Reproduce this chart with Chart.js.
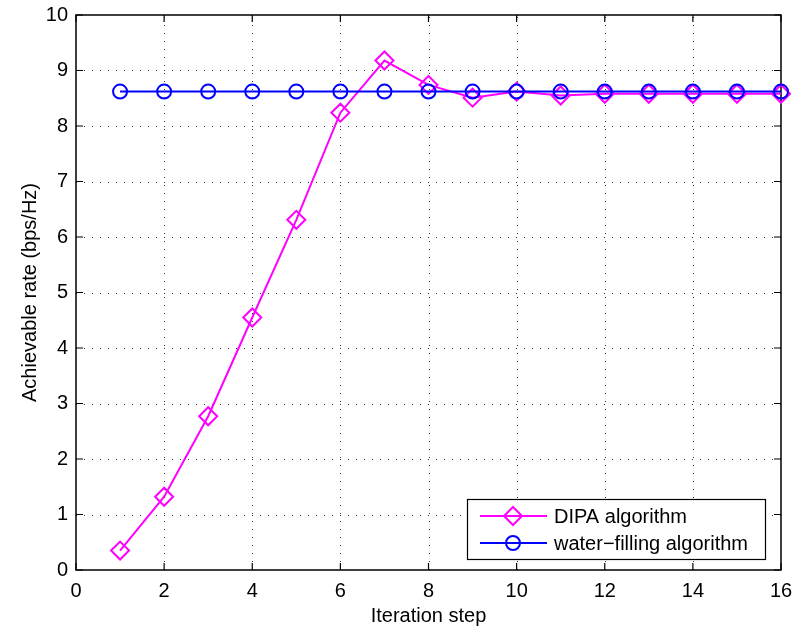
<!DOCTYPE html>
<html>
<head>
<meta charset="utf-8">
<script src="https://cdn.jsdelivr.net/npm/chart.js@4"></script>
<style>
  html, body { margin: 0; padding: 0; background: #fff; }
  #c { display: block; }
</style>
</head>
<body>
<canvas id="c" width="794" height="632"></canvas>
<script>
// Achievable rate per iteration step for the two power-allocation schemes
const iterations = [1, 2, 3, 4, 5, 6, 7, 8, 9, 10, 11, 12, 13, 14, 15, 16];
const dipaRate = [0.35, 1.32, 2.77, 4.55, 6.31, 8.24, 9.18, 8.74, 8.51, 8.62, 8.55, 8.58, 8.58, 8.58, 8.58, 8.58];
const waterFillingRate = [8.62, 8.62, 8.62, 8.62, 8.62, 8.62, 8.62, 8.62, 8.62, 8.62, 8.62, 8.62, 8.62, 8.62, 8.62, 8.62];
const xTickValues = [0, 2, 4, 6, 8, 10, 12, 14, 16];
const yTickValues = [0, 1, 2, 3, 4, 5, 6, 7, 8, 9, 10];
const seriesNames = ['DIPA algorithm', 'water\u2212filling algorithm'];

const FONT = '"Liberation Sans", Arial, Helvetica, sans-serif';

const toPoints = ys => iterations.map((x, i) => ({ x: x, y: ys[i] }));

// Dotted grid, boxed axes with inward ticks, and an in-plot legend
const matlabAxes = {
  id: 'matlabAxes',
  beforeDatasetsDraw(chart) {
    const { ctx, chartArea: a, scales: { x, y } } = chart;
    ctx.save();
    ctx.strokeStyle = '#333';
    ctx.lineWidth = 1;
    ctx.setLineDash([1, 7]);
    xTickValues.slice(1, -1).forEach(v => {
      const px = Math.round(x.getPixelForValue(v)) + 0.5;
      ctx.beginPath(); ctx.moveTo(px, a.bottom); ctx.lineTo(px, a.top); ctx.stroke();
    });
    yTickValues.slice(1, -1).forEach(v => {
      const py = Math.round(y.getPixelForValue(v)) + 0.5;
      ctx.beginPath(); ctx.moveTo(a.left, py); ctx.lineTo(a.right, py); ctx.stroke();
    });
    ctx.setLineDash([]);
    ctx.strokeStyle = '#000';
    ctx.lineWidth = 1.5;
    ctx.strokeRect(a.left, a.top, a.right - a.left, a.bottom - a.top);
    const tl = 7;
    ctx.lineWidth = 1.2;
    xTickValues.forEach(v => {
      const px = x.getPixelForValue(v);
      ctx.beginPath();
      ctx.moveTo(px, a.bottom); ctx.lineTo(px, a.bottom - tl);
      ctx.moveTo(px, a.top); ctx.lineTo(px, a.top + tl);
      ctx.stroke();
    });
    yTickValues.forEach(v => {
      const py = y.getPixelForValue(v);
      ctx.beginPath();
      ctx.moveTo(a.left, py); ctx.lineTo(a.left + tl, py);
      ctx.moveTo(a.right, py); ctx.lineTo(a.right - tl, py);
      ctx.stroke();
    });
    ctx.restore();
  },
  afterDraw(chart) {
    const { ctx } = chart;
    const box = { left: 467, top: 499, right: 765, bottom: 559 };
    ctx.save();
    ctx.fillStyle = '#fff';
    ctx.fillRect(box.left, box.top, box.right - box.left, box.bottom - box.top);
    ctx.strokeStyle = '#000';
    ctx.lineWidth = 1.2;
    ctx.strokeRect(box.left + 0.5, box.top + 0.5, box.right - box.left, box.bottom - box.top);
    const rows = [516, 543];
    chart.data.datasets.forEach((ds, i) => {
      const cy = rows[i];
      ctx.strokeStyle = ds.borderColor;
      ctx.lineWidth = 2;
      ctx.beginPath(); ctx.moveTo(480, cy); ctx.lineTo(547, cy); ctx.stroke();
      ctx.fillStyle = 'rgba(0,0,0,0)';
      ctx.strokeStyle = ds.pointBorderColor;
      Chart.helpers.drawPoint(ctx, {
        pointStyle: ds.pointStyle,
        radius: ds.pointRadius,
        borderWidth: ds.pointBorderWidth,
        rotation: 0
      }, 513, cy);
      ctx.fillStyle = '#000';
      ctx.font = '20px ' + FONT;
      ctx.textAlign = 'left';
      ctx.textBaseline = 'middle';
      ctx.fillText(ds.label, 554, cy + 1);
    });
    ctx.restore();
  }
};

new Chart(document.getElementById('c'), {
  type: 'line',
  data: {
    datasets: [
      {
        label: seriesNames[0],
        data: toPoints(dipaRate),
        order: 2,
        borderColor: '#ff00ff',
        backgroundColor: 'rgba(0,0,0,0)',
        borderWidth: 2,
        pointStyle: 'rectRot',
        pointRadius: 9,
        pointBorderWidth: 2,
        pointBackgroundColor: 'rgba(0,0,0,0)',
        pointBorderColor: '#ff00ff',
        tension: 0,
        clip: false
      },
      {
        label: seriesNames[1],
        data: toPoints(waterFillingRate),
        order: 1,
        borderColor: '#0000ff',
        backgroundColor: 'rgba(0,0,0,0)',
        borderWidth: 2,
        pointStyle: 'circle',
        pointRadius: 7,
        pointBorderWidth: 2,
        pointBackgroundColor: 'rgba(0,0,0,0)',
        pointBorderColor: '#0000ff',
        tension: 0,
        clip: false
      }
    ]
  },
  options: {
    responsive: false,
    animation: false,
    devicePixelRatio: 1,
    layout: { padding: { left: 0, top: 15, right: 13, bottom: 0 } },
    plugins: { legend: { display: false }, tooltip: { enabled: false } },
    scales: {
      x: {
        type: 'linear',
        min: 0,
        max: 16,
        afterBuildTicks: s => { s.ticks = xTickValues.map(v => ({ value: v })); },
        afterFit: s => { s.height = 62; s.paddingLeft = 0; s.paddingRight = 0; },
        grid: { display: false, drawTicks: false },
        border: { display: false },
        ticks: { color: '#000', font: { family: FONT, size: 20 }, padding: 9, maxRotation: 0 },
        title: { display: true, text: 'Iteration step', color: '#000', font: { family: FONT, size: 20 }, padding: { top: 0, bottom: 4 } }
      },
      y: {
        type: 'linear',
        min: 0,
        max: 10,
        afterBuildTicks: s => { s.ticks = yTickValues.map(v => ({ value: v })); },
        afterFit: s => { s.width = 76; s.paddingTop = 0; s.paddingBottom = 0; },
        grid: { display: false, drawTicks: false },
        border: { display: false },
        ticks: { color: '#000', font: { family: FONT, size: 20 }, padding: 8 },
        title: { display: true, text: 'Achievable rate (bps/Hz)', color: '#000', font: { family: FONT, size: 20 }, padding: { top: 18, bottom: 0 } }
      }
    }
  },
  plugins: [matlabAxes]
});
</script>
</body>
</html>
